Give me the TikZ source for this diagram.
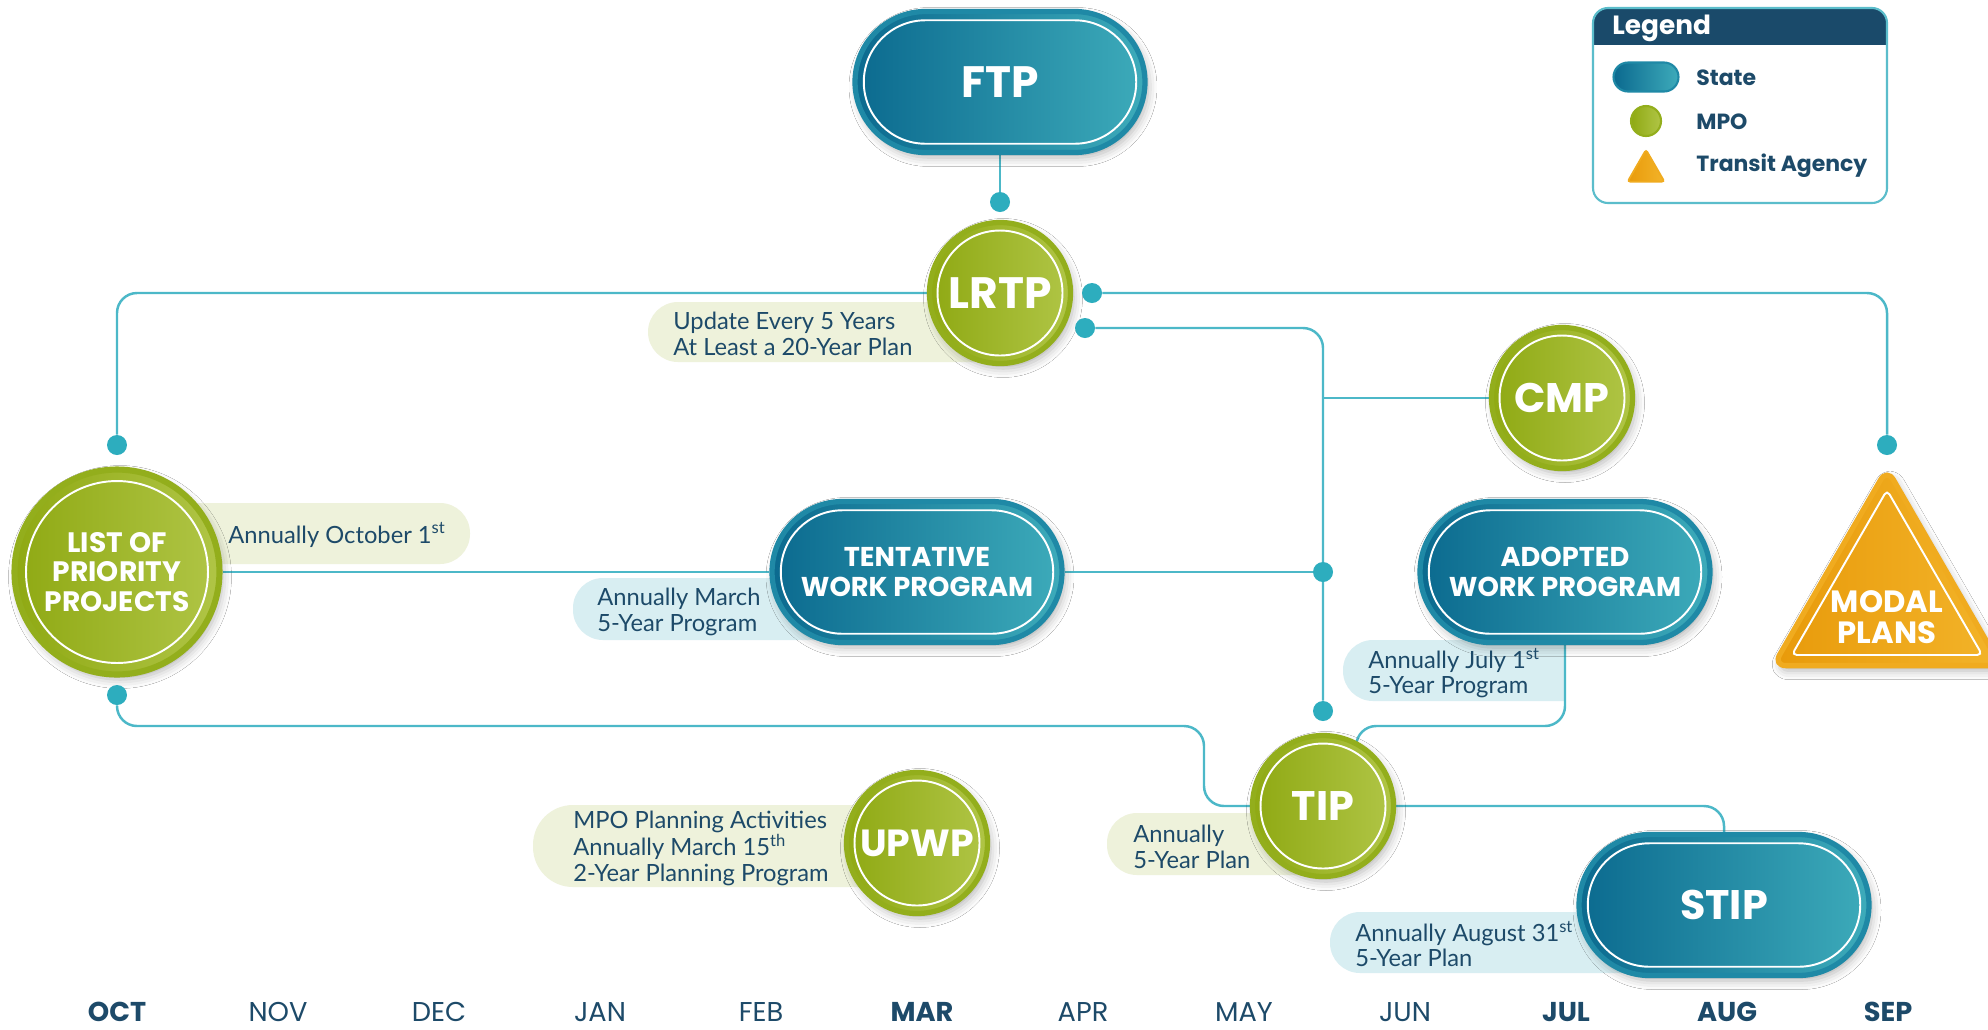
\documentclass[tikz,border=0pt]{standalone}
\usepackage{fontspec}
\setmainfont{Lato}
\newfontfamily\titlefont{Poppins}
\usetikzlibrary{shapes.geometric,shadows.blur,backgrounds,calc}
\definecolor{stateDark}{HTML}{0B6A8F}
\definecolor{stateLight}{HTML}{3DABBA}
\definecolor{stateRing}{HTML}{1F89A6}
\definecolor{mpoDark}{HTML}{8FA913}
\definecolor{mpoLight}{HTML}{B0C546}
\definecolor{mpoRing}{HTML}{93AE1C}
\definecolor{transitDark}{HTML}{E89A0A}
\definecolor{transitLight}{HTML}{F3B42A}
\definecolor{transitRing}{HTML}{F0AB1F}
\definecolor{linkcol}{HTML}{4CB8C8}
\definecolor{dotcol}{HTML}{2DADBE}
\definecolor{inkcol}{HTML}{1D4A69}
\definecolor{notegreen}{HTML}{EEF2DB}
\definecolor{notecyan}{HTML}{D8EEF2}
\definecolor{legendhead}{HTML}{1A4A6A}
\definecolor{legendframe}{HTML}{5BBDCB}
\tikzset{
    soft shadow/.style = {blur shadow={shadow xshift=0.06cm, shadow yshift=-0.1cm,
        shadow blur radius=0.18cm, shadow opacity=30}},
    state base/.style = {rectangle, draw=stateRing, left color=stateDark,
        right color=stateLight, text=white, align=center},
    state/.style = {state base, soft shadow, line width=3pt,
        minimum width=5.8cm, minimum height=2.82cm, rounded corners=1.41cm,
        label={[state line]center:}},
    state line/.style = {rectangle, draw=white, line width=1.1pt,
        minimum width=5.45cm, minimum height=2.47cm, rounded corners=1.235cm},
    mpo base/.style = {circle, draw=mpoRing, left color=mpoDark,
        right color=mpoLight, text=white, align=center},
    mpo/.style = {mpo base, soft shadow, line width=3pt, minimum size=2.82cm,
        label={[mpo line]center:}},
    mpo big/.style = {mpo base, soft shadow, line width=3.5pt, minimum size=4.1cm,
        label={[mpo line, minimum size=3.64cm]center:}},
    mpo line/.style = {circle, draw=white, line width=1.1pt, minimum size=2.5cm},
    transit base/.style = {regular polygon, regular polygon sides=3,
        draw=transitRing, left color=transitDark, right color=transitLight},
    transit/.style = {transit base, soft shadow, line width=3pt,
        minimum size=5.25cm, rounded corners=0.25cm,
        label={[transit line]center:}},
    transit line/.style = {regular polygon, regular polygon sides=3, draw=white,
        line width=1.1pt, minimum size=4.4cm, rounded corners=0.1cm},
    transit text/.style = {text=white, align=center, yshift=-0.34cm,
        font=\titlefont\bfseries\fontsize{17.5}{17.5}\selectfont},
    title xxl/.style = {font=\titlefont\bfseries\fontsize{25}{28}\selectfont},
    title xl/.style = {font=\titlefont\bfseries\fontsize{23.5}{27}\selectfont},
    title l/.style = {font=\titlefont\bfseries\fontsize{21.5}{25}\selectfont},
    title m/.style = {font=\titlefont\bfseries\fontsize{16}{17}\selectfont},
    title s/.style = {font=\titlefont\bfseries\fontsize{15.5}{17}\selectfont},
    note/.style = {text=inkcol, align=left, inner sep=0pt, anchor=west,
        font=\fontsize{13.5}{14.6}\selectfont},
    note green/.style = {fill=notegreen, rounded corners=0.6cm},
    note cyan/.style = {fill=notecyan, rounded corners=0.6cm},
    dot/.style = {circle, fill=dotcol, inner sep=0pt, minimum size=0.4cm},
    link/.style = {draw=linkcol, line width=1.4pt, rounded corners=0.4cm},
    month light/.style = {text=inkcol, font=\titlefont\fontsize{15.5}{18}\selectfont},
    month bold/.style = {text=inkcol, font=\titlefont\bfseries\fontsize{15.5}{18}\selectfont},
    legend head/.style = {text=white, anchor=west, inner sep=0pt,
        font=\titlefont\bfseries\fontsize{15}{18}\selectfont},
    legend item/.style = {text=inkcol, anchor=west, inner sep=0pt,
        font=\titlefont\bfseries\fontsize{12.5}{15}\selectfont}
}

\begin{document}
\begin{tikzpicture}[x=0.02cm, y=-0.02cm]
    \useasboundingbox (0,0) rectangle (1988,1029);

    % plans
    \node [state, title xxl] (ftp) at (1000,82) {FTP};
    \node [mpo, title xxl] (lrtp) at (1000,293) {LRTP};
    \node [mpo, title xl] (cmp) at (1562,398) {CMP};
    \node [mpo big, title m] (list) at (117,572) {LIST OF\\PRIORITY\\PROJECTS};
    \node [state, title s] (twp) at (917,572) {TENTATIVE\\WORK PROGRAM};
    \node [state, title s] (awp) at (1565,572) {ADOPTED\\WORK PROGRAM};
    \node [transit, label={[transit text]center:MODAL\\PLANS}] (modal) at (1887,600) {};
    \node [mpo, title xl] (tip) at (1323,806) {TIP};
    \node [mpo, title l] (upwp) at (917,843) {UPWP};
    \node [state, title xl] (stip) at (1724,905) {STIP};

    % dots
    \node [dot] (d-lrtp) at (1000,202) {};
    \node [dot] (d-list-top) at (117,445) {};
    \node [dot] (d-list-bot) at (117,695) {};
    \node [dot] (d-r1) at (1092,293) {};
    \node [dot] (d-r2) at (1085,328) {};
    \node [dot] (d-modal) at (1887,445) {};
    \node [dot] (d-mid) at (1323,572) {};
    \node [dot] (d-tip) at (1323,711) {};
    \coordinate (c-tip) at (1204,726);
    \coordinate (c-awp) at (1565,726);

    % notes
    \node [note] (n-lrtp) at (673,334) {Update Every 5 Years\\At Least a 20-Year Plan};
    \node [note] (n-list) at (228,535) {Annually October 1\textsuperscript{st}};
    \node [note] (n-twp) at (597,612) {Annually March\\5-Year Program};
    \node [note] (n-awp) at (1368,673) {Annually July 1\textsuperscript{st}\\5-Year Program};
    \node [note] (n-tip) at (1133,847) {Annually\\5-Year Plan};
    \node [note] (n-upwp) at (573,848) {MPO Planning Activities\\Annually March 15\textsuperscript{th}\\2-Year Planning Program};
    \node [note] (n-stip) at (1355,944) {Annually August 31\textsuperscript{st}\\5-Year Plan};

    % months
    \foreach \mon/\mx/\mw in {OCT/117/bold, NOV/278/light, DEC/439/light,
        JAN/600/light, FEB/761/light, MAR/922/bold, APR/1083/light,
        MAY/1244/light, JUN/1405/light, JUL/1566/bold, AUG/1727/bold, SEP/1888/bold}
        \node [month \mw] (m-\mon) at (\mx,1012) {\mon};

    % legend
    \begin{scope}
        \clip [rounded corners=0.3cm] (1593,8) rectangle (1887,203);
        \fill [white] (1593,8) rectangle (1887,203);
        \fill [legendhead] (1593,8) rectangle (1887,45);
    \end{scope}
    \draw [legendframe, line width=1.2pt, rounded corners=0.3cm] (1593,8) rectangle (1887,203);
    \node [legend head] (leg-title) at (1612,28) {Legend};
    \node [state base, line width=1.2pt, minimum width=1.3cm, minimum height=0.58cm,
        rounded corners=0.29cm] (leg-state) at (1646,77) {};
    \node [mpo base, line width=1.2pt, minimum size=0.6cm] (leg-mpo) at (1646,121) {};
    \node [transit base, line width=1pt, minimum size=0.85cm,
        rounded corners=0.05cm] (leg-transit) at (1646,171) {};
    \node [legend item] (leg-state-t) at (1696,78) {State};
    \node [legend item] (leg-mpo-t) at (1696,122) {MPO};
    \node [legend item] (leg-transit-t) at (1696,166) {Transit Agency};

    \begin{scope}[on background layer]
        \fill [white] (0,0) rectangle (1988,1029);
        \fill [note green] (648,302) rectangle (1010,362);
        \fill [note green] (150,503) rectangle (470,564);
        \fill [note cyan] (573,578) rectangle (900,640);
        \begin{scope}
            \clip (1300,600) rectangle (1565,720);
            \fill [note cyan] (1343,640) rectangle (1620,701);
        \end{scope}
        \fill [note green] (1107,813) rectangle (1340,875);
        \fill [note green, rounded corners=0.8cm] (533,805) rectangle (940,887);
        \fill [note cyan] (1330,912) rectangle (1700,973);

        \draw [link] (ftp) -- (d-lrtp);
        \draw [link] (lrtp) -| (d-list-top);
        \draw [link] (d-r1) -| (d-modal);
        \draw [link] (d-r2) -| (d-tip);
        \draw [link] (cmp) -- (cmp -| d-tip);
        \draw [link] (list) -- (twp);
        \draw [link] (twp) -- (d-mid);
        \draw [link] (d-list-bot) |- (c-tip) |- (tip);
        \draw [link] (awp) -- (c-awp) -| (tip.63);
        \draw [link] (tip) -| (stip);
    \end{scope}
\end{tikzpicture}
\end{document}
